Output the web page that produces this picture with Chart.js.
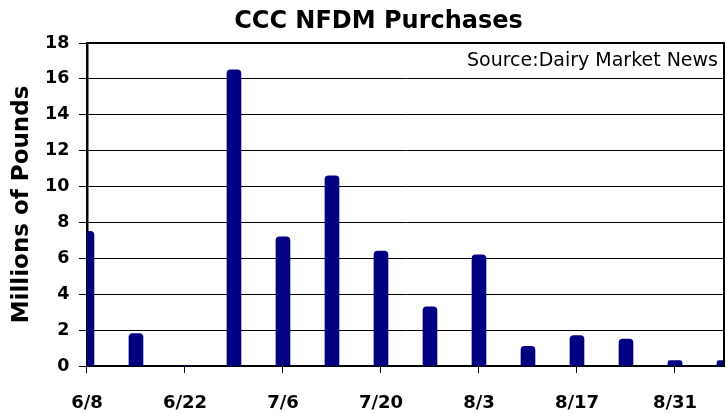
<!DOCTYPE html>
<html>
<head>
  <script src="https://cdn.jsdelivr.net/npm/chart.js"></script>
  <style>
    body { margin: 0; background: #fff; }
  </style>
</head>
<body>

<canvas id="chart" width="727" height="413"></canvas>

<script>
const weeks = ["6/8", "6/15", "6/22", "6/29", "7/6", "7/13", "7/20", "7/27", "8/3", "8/10", "8/17", "8/24", "8/31", "9/7"];
const purchases = [7.5, 1.8, 0, 16.5, 7.2, 10.6, 6.4, 3.3, 6.2, 1.1, 1.7, 1.5, 0.3, 0.3];
const yTicks = [0, 2, 4, 6, 8, 10, 12, 14, 16, 18];
const chartTitle = "CCC NFDM Purchases";
const sourceNote = "Source:Dairy Market News";

const FONT = "'DejaVu Sans', sans-serif";

// title, frame on top/right and source note inside the plot
const extras = {
  id: "extras",
  afterDraw(chart) {
    const { ctx, chartArea: a } = chart;
    ctx.save();
    ctx.strokeStyle = "#000";
    ctx.lineWidth = 2;
    ctx.beginPath();
    ctx.moveTo(a.left, a.top);
    ctx.lineTo(a.right, a.top);
    ctx.lineTo(a.right, a.bottom);
    ctx.stroke();

    ctx.fillStyle = "#000";
    ctx.textBaseline = "middle";
    ctx.textAlign = "center";
    ctx.font = "bold 24px " + FONT;
    ctx.fillText(chartTitle, chart.width / 2 + 15, 22);

    ctx.font = "19px " + FONT;
    ctx.textAlign = "right";
    ctx.fillText(sourceNote, a.right - 6, a.top + 18);
    ctx.restore();
  }
};

new Chart(document.getElementById("chart"), {
  type: "bar",
  data: {
    labels: weeks,
    datasets: [{
      data: purchases,
      backgroundColor: "#000080",
      borderRadius: { topLeft: 4, topRight: 4 },
      borderSkipped: "bottom",
      barThickness: 14
    }]
  },
  options: {
    responsive: false,
    animation: false,
    layout: { padding: { left: 0, right: 3, top: 43, bottom: -20 } },
    plugins: {
      legend: { display: false },
      tooltip: { enabled: false },
      title: { display: false }
    },
    scales: {
      x: {
        offset: false,
        grid: {
          offset: false,
          drawOnChartArea: false,
          drawTicks: true,
          tickLength: 7,
          lineWidth: 1,
          color: ctx => ctx.index % 2 === 0 ? "#000" : "rgba(0,0,0,0)"
        },
        border: { display: true, color: "#000", width: 2 },
        ticks: {
          autoSkip: false,
          maxRotation: 0,
          padding: 0,
          color: "#000",
          font: { family: FONT, size: 18, weight: "bold", lineHeight: "60px" },
          callback: (v, i) => i % 2 === 0 ? weeks[i] : ""
        }
      },
      y: {
        min: 0,
        max: 18,
        afterBuildTicks: axis => { axis.ticks = yTicks.map(v => ({ value: v })); },
        grid: { color: "#000", lineWidth: 1, tickLength: 8 },
        border: { display: true, color: "#000", width: 2.5 },
        ticks: {
          padding: 9.5,
          color: "#000",
          font: { family: FONT, size: 17.5, weight: "bold" }
        },
        title: {
          display: true,
          text: "Millions of Pounds",
          color: "#000",
          font: { family: FONT, size: 23, weight: "bold" },
          padding: { top: 8, bottom: 0 }
        }
      }
    }
  },
  plugins: [extras]
});
</script>

</body>
</html>
